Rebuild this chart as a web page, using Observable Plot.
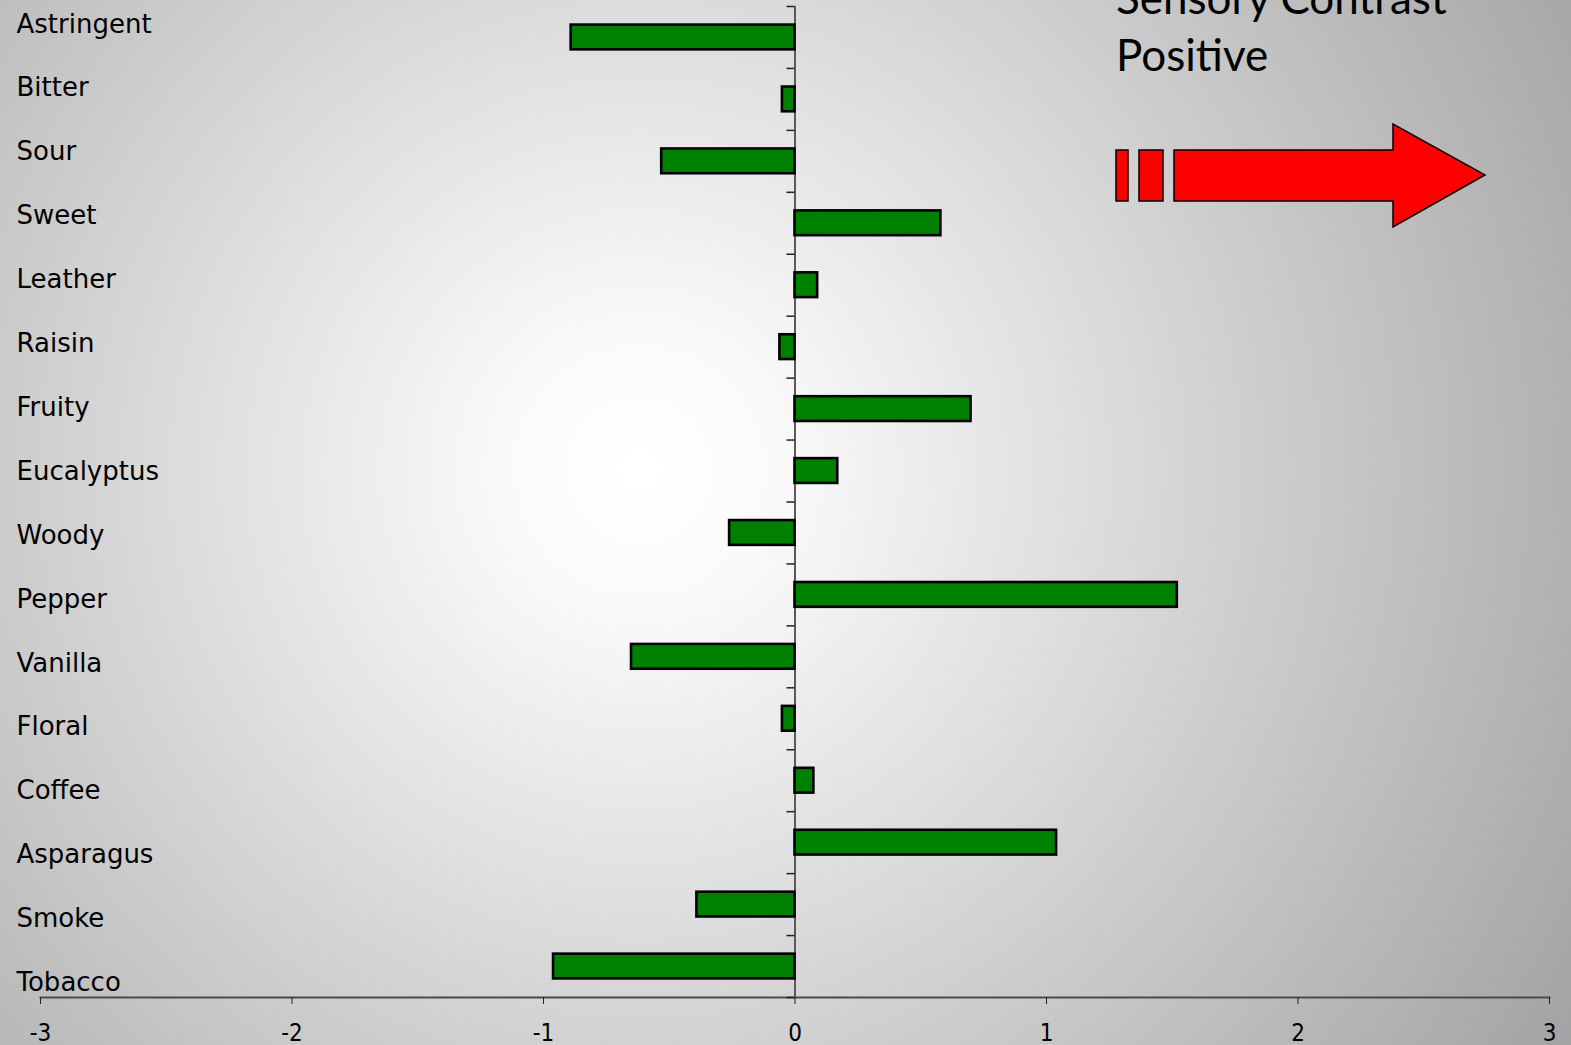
<!DOCTYPE html>
<html>
<head>
<meta charset="utf-8">
<script src="https://cdn.jsdelivr.net/npm/d3@7"></script>
<script src="https://cdn.jsdelivr.net/npm/@observablehq/plot@0.6"></script>
<style>
  html, body { margin: 0; padding: 0; width: 1571px; height: 1045px; overflow: hidden; }
  body {
    position: relative;
    background: radial-gradient(circle 1100px at 640px 470px, #ffffff 0%, #fafafa 12%, #a2a2a2 100%);
  }
  .layer { position: absolute; left: 0; top: 0; }
  .layer svg { display: block; background: transparent; overflow: visible; }
  #chart g[aria-label="x-axis tick label"] text { font-family: "Liberation Sans Narrow", "DejaVu Sans Condensed", sans-serif; }
  #note { pointer-events: none; }
</style>
</head>
<body>
<div id="labels" class="layer"></div>
<div id="chart" class="layer"></div>
<svg id="note" class="layer" width="1571" height="1045" xmlns="http://www.w3.org/2000/svg">
  <g font-family="Lato, 'Open Sans', sans-serif" font-size="44" fill="#000">
    <text x="1116" y="14">Sensory Contrast</text>
    <text x="1116" y="71">Positive</text>
  </g>
  <g fill="#ff0000" stroke="#000" stroke-width="1.5">
    <rect x="1116" y="150" width="12" height="51"></rect>
    <rect x="1139" y="150" width="24" height="51"></rect>
    <polygon points="1174,150 1393,150 1393,124 1485,175 1393,227 1393,201 1174,201"></polygon>
  </g>
</svg>
<script>
// Sensory attributes, top to bottom
const attributes = [
  "Astringent", "Bitter", "Sour", "Sweet", "Leather", "Raisin", "Fruity", "Eucalyptus",
  "Woody", "Pepper", "Vanilla", "Floral", "Coffee", "Asparagus", "Smoke", "Tobacco"
];

// Contrast score for each attribute
const contrast = [
  -0.89, -0.05, -0.53, 0.58, 0.09, -0.06, 0.70, 0.17,
  -0.26, 1.52, -0.65, -0.05, 0.075, 1.04, -0.39, -0.96
];

// Axis tick values
const xTicks = [-3, -2, -1, 0, 1, 2, 3];

const rows = attributes.map((name, i) => ({name, value: contrast[i]}));

// Bar chart
const chart = Plot.plot({
  width: 1571,
  height: 1045,
  marginLeft: 40,
  marginRight: 22,
  marginTop: 6,
  marginBottom: 48,
  style: {background: "transparent", fontFamily: "'DejaVu Sans', sans-serif"},
  x: {domain: [-3, 3], axis: null},
  y: {domain: attributes, paddingInner: 0.6, paddingOuter: 0.3, round: false, axis: null},
  marks: [
    // bottom axis line
    Plot.frame({anchor: "bottom", stroke: "#4a4a4a", strokeWidth: 2}),
    Plot.axisX({
      ticks: xTicks,
      tickFormat: d => String(d),
      tickSize: 7,
      tickPadding: 19,
      fontSize: 24,
      label: null,
      stroke: "#222",
      fill: "#000"
    }),
    // zero line
    Plot.ruleX([0], {stroke: "#5a5a5a", strokeWidth: 2}),
    // category separators on the zero line
    Plot.ruleY(attributes, {y: d => d, x1: -0.032, x2: 0, dy: -30.97, stroke: "#222", strokeWidth: 1.5}),
    Plot.ruleY(attributes.slice(-1), {y: d => d, x1: -0.032, x2: 0, dy: 30.97, stroke: "#222", strokeWidth: 1.5}),
    Plot.barX(rows, {x: "value", y: "name", fill: "#008000", stroke: "#000", strokeWidth: 2.6})
  ]
});

// Attribute name column, laid out on its own evenly spaced rows
const labels = Plot.plot({
  width: 1571,
  height: 1045,
  marginLeft: 16,
  marginRight: 0,
  marginTop: 23.7,
  marginBottom: 62.8,
  style: {background: "transparent", fontFamily: "'DejaVu Sans', sans-serif"},
  x: {axis: null},
  y: {type: "point", domain: attributes, padding: 0, round: false, axis: null},
  marks: [
    Plot.text(attributes, {
      y: d => d,
      text: d => d,
      frameAnchor: "left",
      textAnchor: "start",
      lineAnchor: "middle",
      fontSize: 26,
      fill: "#000"
    })
  ]
});

document.getElementById("labels").appendChild(labels);
document.getElementById("chart").appendChild(chart);
</script>
</body>
</html>
